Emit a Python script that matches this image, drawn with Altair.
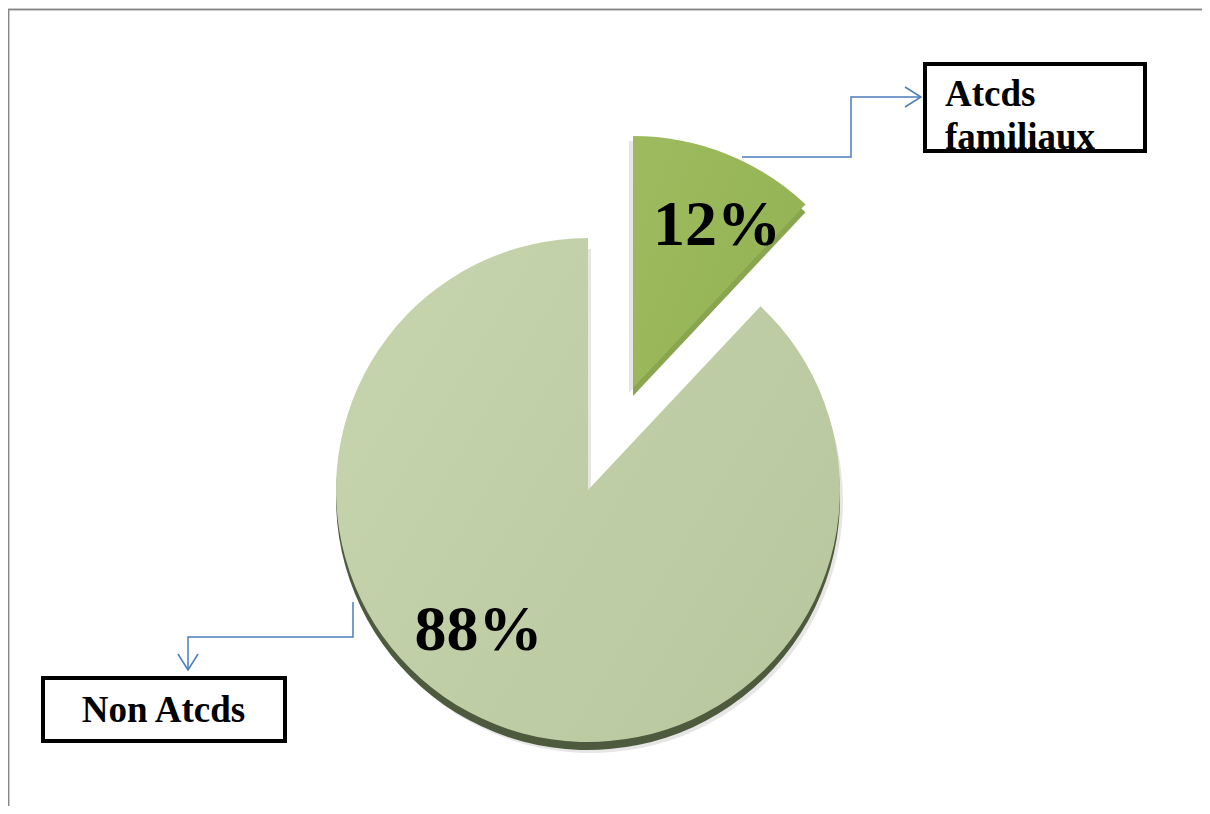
import math
import altair as alt
import pandas as pd

# ---- data ----
categories = ["Atcds familiaux", "Non Atcds"]
values = [12, 88]
pct_labels = ["12%", "88%"]

df = pd.DataFrame({"category": categories, "value": values, "label": pct_labels})
df["end"] = df["value"].cumsum()
df["start"] = df["end"] - df["value"]

W, H = 1194, 798
R = 252
FONT = "Liberation Serif"
theta_scale = alt.Scale(domain=[0, 100], range=[0, 2 * math.pi])


def grad(c1, c2):
    return alt.Gradient(
        gradient="linear",
        stops=[alt.GradientStop(color=c1, offset=0), alt.GradientStop(color=c2, offset=1)],
        x1=0, x2=1, y1=0.2, y2=0.8,
    )


def slice_layers(cat, cx, cy, face, side, side_dy, sh_dx, sh_dy, lx, ly):
    base = alt.Chart(df).transform_filter(alt.datum.category == cat)
    th = dict(theta=alt.Theta("start:Q", scale=theta_scale), theta2=alt.Theta2("end:Q"))
    shade = base.mark_arc(radius=R, color="#9a9a9a", opacity=0.25).encode(
        x=alt.value(cx + sh_dx), y=alt.value(cy + sh_dy), **th)
    side_l = base.mark_arc(radius=R, color=side).encode(
        x=alt.value(cx), y=alt.value(cy + side_dy), **th)
    face_l = base.mark_arc(radius=R, color=face).encode(
        x=alt.value(cx), y=alt.value(cy), **th)
    text = base.mark_text(font=FONT, fontWeight="bold", fontSize=64, align="center",
                          baseline="alphabetic", color="black").encode(
        x=alt.value(lx), y=alt.value(ly), text="label:N")
    return [shade, side_l, face_l], text


big, big_text = slice_layers("Non Atcds", 580, 482, grad("#C6D4AD", "#B8C79E"), "#4E5A3D", 8, 3, 11, 470.5, 642)
small, small_text = slice_layers("Atcds familiaux", 625, 380, grad("#9DBB5E", "#93B252"), "#89A54F", 8, -4, 5, 709, 237)

# connectors (annotation geometry in pixels)
conn = pd.DataFrame({
    "path": ["a"] * 4 + ["ah"] * 3 + ["b"] * 4 + ["bh"] * 3,
    "i": [0, 1, 2, 3, 0, 1, 2, 0, 1, 2, 3, 0, 1, 2],
    "x": [734, 843, 843, 912, 897, 913, 897, 345, 345, 180, 180, 170, 180, 190],
    "y": [149, 149, 89, 89, 79, 89, 99, 594, 629, 629, 662, 646, 662, 646],
})
connectors = alt.Chart(conn).mark_line(color="#4A7EBB", strokeWidth=1.5).encode(
    x=alt.X("x:Q", scale=None, axis=None),
    y=alt.Y("y:Q", scale=None, axis=None),
    detail="path:N",
    order="i:O",
)

box1 = alt.Chart(df).mark_rect(fill="white", stroke="black", strokeWidth=4).encode(
    x=alt.value(917), x2=alt.value(1137), y=alt.value(56), y2=alt.value(143))
box2 = alt.Chart(df).mark_rect(fill="white", stroke="black", strokeWidth=4).encode(
    x=alt.value(35), x2=alt.value(277), y=alt.value(670), y2=alt.value(733))

box1_text = alt.Chart(df).transform_filter(alt.datum.category == "Atcds familiaux").mark_text(
    font=FONT, fontWeight="bold", fontSize=37, align="left", baseline="alphabetic",
    lineBreak=" ", lineHeight=43, color="black").encode(
    x=alt.value(937), y=alt.value(98), text="category:N")
box2_text = alt.Chart(df).transform_filter(alt.datum.category == "Non Atcds").mark_text(
    font=FONT, fontWeight="bold", fontSize=37, align="center", baseline="alphabetic",
    color="black").encode(
    x=alt.value(155.5), y=alt.value(714), text="category:N")

frame_top = alt.Chart(df).mark_rule(color="#888888", strokeWidth=1.5).encode(
    x=alt.value(0), x2=alt.value(W), y=alt.value(1.5), y2=alt.value(1.5))
frame_left = alt.Chart(df).mark_rule(color="#888888", strokeWidth=1.5).encode(
    x=alt.value(0.5), x2=alt.value(0.5), y=alt.value(1.5), y2=alt.value(H))

chart = alt.layer(
    *big, *small, big_text, small_text, connectors,
    box1, box1_text, box2, box2_text, frame_top, frame_left,
).properties(
    width=W, height=H, padding=0,
    autosize=alt.AutoSizeParams(type="none"),
).configure_view(stroke=None)

chart.save("out.html", embed_options={"renderer": "svg", "actions": False})
